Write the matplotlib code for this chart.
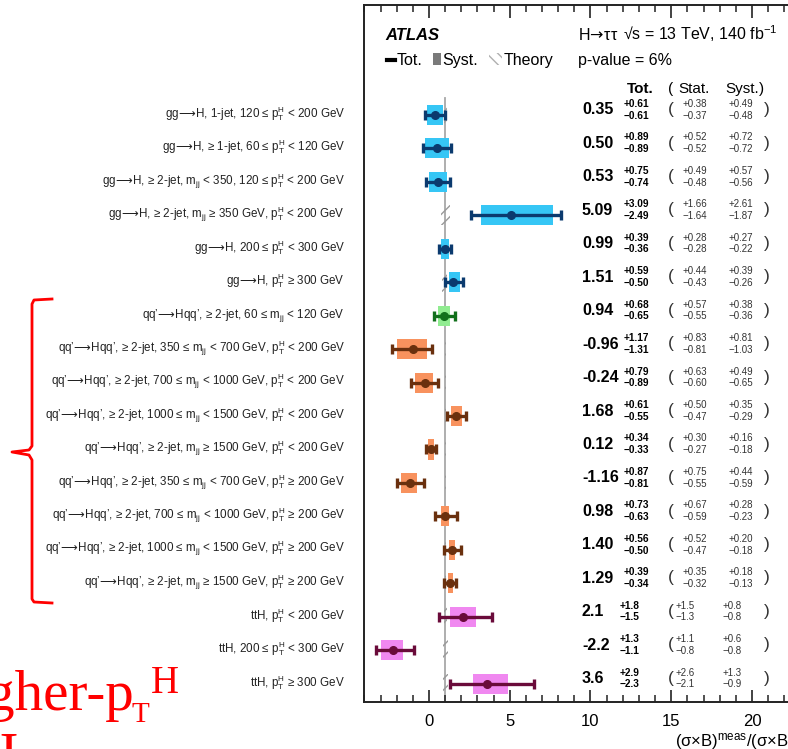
import matplotlib
matplotlib.use("Agg")
import matplotlib.pyplot as plt
from matplotlib.patches import Rectangle
from matplotlib.lines import Line2D
from matplotlib.ticker import MultipleLocator

plt.rcParams["font.family"] = ["Liberation Sans", "DejaVu Sans"]
plt.rcParams["mathtext.fontset"] = "custom"
plt.rcParams["mathtext.rm"] = "Liberation Sans"
plt.rcParams["mathtext.it"] = "Liberation Sans:italic"
plt.rcParams["mathtext.bf"] = "Liberation Sans:bold"
plt.rcParams["mathtext.sf"] = "DejaVu Sans"
plt.rcParams["hatch.linewidth"] = 1.0

PT = r"$\mathregular{p_{T}^{H}}$"
MJJ = r"$\mathregular{m_{jj}}$"
ARR = r"$\!\mathsf{\longrightarrow}\!$"

categories = [
    f"gg{ARR}H, 1-jet, 120 ≤ {PT} < 200 GeV",
    f"gg{ARR}H, ≥ 1-jet, 60 ≤ {PT} < 120 GeV",
    f"gg{ARR}H, ≥ 2-jet, {MJJ} < 350, 120 ≤ {PT} < 200 GeV",
    f"gg{ARR}H, ≥ 2-jet, {MJJ} ≥ 350 GeV, {PT} < 200 GeV",
    f"gg{ARR}H, 200 ≤ {PT} < 300 GeV",
    f"gg{ARR}H, {PT} ≥ 300 GeV",
    f"qq’{ARR}Hqq’, ≥ 2-jet, 60 ≤ {MJJ} < 120 GeV",
    f"qq’{ARR}Hqq’, ≥ 2-jet, 350 ≤ {MJJ} < 700 GeV, {PT} < 200 GeV",
    f"qq’{ARR}Hqq’, ≥ 2-jet, 700 ≤ {MJJ} < 1000 GeV, {PT} < 200 GeV",
    f"qq’{ARR}Hqq’, ≥ 2-jet, 1000 ≤ {MJJ} < 1500 GeV, {PT} < 200 GeV",
    f"qq’{ARR}Hqq’, ≥ 2-jet, {MJJ} ≥ 1500 GeV, {PT} < 200 GeV",
    f"qq’{ARR}Hqq’, ≥ 2-jet, 350 ≤ {MJJ} < 700 GeV, {PT} ≥ 200 GeV",
    f"qq’{ARR}Hqq’, ≥ 2-jet, 700 ≤ {MJJ} < 1000 GeV, {PT} ≥ 200 GeV",
    f"qq’{ARR}Hqq’, ≥ 2-jet, 1000 ≤ {MJJ} < 1500 GeV, {PT} ≥ 200 GeV",
    f"qq’{ARR}Hqq’, ≥ 2-jet, {MJJ} ≥ 1500 GeV, {PT} ≥ 200 GeV",
    f"ttH, {PT} < 200 GeV",
    f"ttH, 200 ≤ {PT} < 300 GeV",
    f"ttH, {PT} ≥ 300 GeV",
]

mu = [0.35, 0.50, 0.53, 5.09, 0.99, 1.51, 0.94, -0.96, -0.24, 1.68, 0.12,
      -1.16, 0.98, 1.40, 1.29, 2.1, -2.2, 3.6]
tot_up = [0.61, 0.89, 0.75, 3.09, 0.39, 0.59, 0.68, 1.17, 0.79, 0.61, 0.34,
          0.87, 0.73, 0.56, 0.39, 1.8, 1.3, 2.9]
tot_dn = [0.61, 0.89, 0.74, 2.49, 0.36, 0.50, 0.65, 1.31, 0.89, 0.55, 0.33,
          0.81, 0.63, 0.50, 0.34, 1.5, 1.1, 2.3]
stat_up = [0.38, 0.52, 0.49, 1.66, 0.28, 0.44, 0.57, 0.83, 0.63, 0.50, 0.30,
           0.75, 0.67, 0.52, 0.35, 1.5, 1.1, 2.6]
stat_dn = [0.37, 0.52, 0.48, 1.64, 0.28, 0.43, 0.55, 0.81, 0.60, 0.47, 0.27,
           0.55, 0.59, 0.47, 0.32, 1.3, 0.8, 2.1]
syst_up = [0.49, 0.72, 0.57, 2.61, 0.27, 0.39, 0.38, 0.81, 0.49, 0.35, 0.16,
           0.44, 0.28, 0.20, 0.18, 0.8, 0.6, 1.3]
syst_dn = [0.48, 0.72, 0.56, 1.87, 0.22, 0.26, 0.36, 1.03, 0.65, 0.29, 0.18,
           0.59, 0.23, 0.18, 0.13, 0.8, 0.8, 0.9]
theory_up = [0.12, 0.06, 0.10, 0.30, 0.05, 0.12, 0.03, 0.03, 0.03, 0.03, 0.03,
             0.03, 0.03, 0.03, 0.03, 0.12, 0.15, 0.15]
theory_dn = [0.06, 0.05, 0.08, 0.25, 0.05, 0.20, 0.03, 0.03, 0.03, 0.03, 0.03,
             0.03, 0.03, 0.03, 0.03, 0.10, 0.12, 0.12]
decimals = [2] * 15 + [1] * 3

box_colors = ["#36C6F5"] * 6 + ["#90EC90"] + ["#F8925E"] * 8 + ["#F088F0"] * 3
bar_colors = ["#0B3A6E"] * 6 + ["#12701C"] + ["#6A300E"] * 8 + ["#6A0B3A"] * 3

xtick_major = 5
xtick_minor = 1

W, H = 788, 749
fig = plt.figure(figsize=(W / 100, H / 100), dpi=100)


def fx(px):
    return px / W


def fy(py):
    return 1 - py / H


# pixel <-> data mapping used for the axes placement
X0_PX, X_SCALE = 429.0, 16.15
Y0_PX, Y_SCALE = 115.0, 33.45
XMIN, XMAX = -4.0, 25.0
AX_TOP, AX_BOT = 5.0, 702.0
left_px = X0_PX + XMIN * X_SCALE
right_px = X0_PX + XMAX * X_SCALE
ax = fig.add_axes([fx(left_px), fy(AX_BOT), (right_px - left_px) / W,
                   (AX_BOT - AX_TOP) / H])
ax.set_xlim(XMIN, XMAX)
ax.set_ylim((AX_BOT - Y0_PX) / Y_SCALE, (AX_TOP - Y0_PX) / Y_SCALE)


def dx(px):
    return (px - X0_PX) / X_SCALE


def dy(py):
    return (py - Y0_PX) / Y_SCALE


for s in ["left", "top", "bottom", "right"]:
    ax.spines[s].set_linewidth(1.4)
    ax.spines[s].set_color("#222222")
ax.set_yticks([])
ax.xaxis.set_major_locator(MultipleLocator(xtick_major))
ax.xaxis.set_minor_locator(MultipleLocator(xtick_minor))
ax.tick_params(axis="x", which="both", direction="in", top=True, bottom=True,
               labeltop=False, colors="#222222")
ax.tick_params(axis="x", which="major", length=9, width=1.2, pad=9,
               labelsize=12, labelcolor="black")
ax.tick_params(axis="x", which="minor", length=5, width=1.1)

n = len(mu)
ybot = (AX_BOT - Y0_PX) / Y_SCALE

# SM reference line
ax.plot([1, 1], [-0.5, ybot], color="#A8A8A8", lw=1.3, zorder=1)

for i in range(n):
    y = i
    # theory band
    ax.add_patch(Rectangle((1 - theory_dn[i], y - 0.3),
                           theory_dn[i] + theory_up[i], 0.6, fill=False,
                           hatch="///", edgecolor="#9A9A9A", lw=0, zorder=1.5))
    # systematic band
    ax.add_patch(Rectangle((mu[i] - syst_dn[i], y - 0.3),
                           syst_dn[i] + syst_up[i], 0.6,
                           facecolor=box_colors[i], edgecolor="none", zorder=2))
    # total uncertainty
    ax.errorbar([mu[i]], [y], xerr=[[tot_dn[i]], [tot_up[i]]], fmt="o", ms=5.5,
                color=bar_colors[i], ecolor=bar_colors[i], lw=2.4,
                capsize=3.8, capthick=2.4, zorder=3)

    # category label
    ax.text(dx(345), y + 0.075, categories[i], ha="right", va="baseline",
            fontsize=8.4, color="#222222", clip_on=False)

    d = decimals[i]
    f = f"{{:.{d}f}}"
    if d == 2:
        xt, xs, xy = 624, 683, 729
    else:
        xt, xs, xy = 620, 676, 723
    ax.text(dx(582), y - 0.15, f.format(mu[i]), fontsize=11.5,
            fontweight="bold", ha="left", va="center")
    ax.text(dx(xt), y - 0.33, "+" + f.format(tot_up[i]), fontsize=7.3,
            fontweight="bold", ha="left", va="center")
    ax.text(dx(xt), y + 0.02, "−" + f.format(tot_dn[i]), fontsize=7.3,
            fontweight="bold", ha="left", va="center")
    ax.text(dx(668), y - 0.16, "(", fontsize=12.5, ha="left", va="center",
            color="#333333")
    ax.text(dx(xs), y - 0.33, "+" + f.format(stat_up[i]), fontsize=7,
            ha="left", va="center", color="#333333")
    ax.text(dx(xs), y + 0.02, "−" + f.format(stat_dn[i]), fontsize=7,
            ha="left", va="center", color="#333333")
    ax.text(dx(xy), y - 0.33, "+" + f.format(syst_up[i]), fontsize=7,
            ha="left", va="center", color="#333333")
    ax.text(dx(xy), y + 0.02, "−" + f.format(syst_dn[i]), fontsize=7,
            ha="left", va="center", color="#333333")
    ax.text(dx(764), y - 0.16, ")", fontsize=12.5, ha="left", va="center",
            color="#333333")

# column header
ax.text(dx(627), dy(93), "Tot.", fontsize=11, fontweight="bold", ha="left",
        va="baseline")
ax.text(dx(668), dy(93), "(", fontsize=11, ha="left", va="baseline")
ax.text(dx(678), dy(93), "Stat.", fontsize=11, ha="left", va="baseline")
ax.text(dx(725), dy(93), "Syst.", fontsize=11, ha="left", va="baseline")
ax.text(dx(759), dy(93), ")", fontsize=11, ha="left", va="baseline")

# header text
fig.text(fx(385), fy(40), "ATLAS", fontsize=12, fontweight="bold",
         fontstyle="italic", ha="left", va="baseline")
fig.text(fx(578), fy(40), r"H$\!\mathsf{\rightarrow}\!$ττ", fontsize=11.5,
         ha="left", va="baseline")
fig.text(fx(623), fy(40), r"√s = 13 TeV, 140 fb$^{\mathregular{-1}}$",
         fontsize=11.5, ha="left", va="baseline")
fig.text(fx(578), fy(65), "p-value = 6%", fontsize=11.5, ha="left",
         va="baseline")

# legend
fig.add_artist(Line2D([fx(387), fx(395)], [fy(59.5), fy(59.5)], color="black",
                      lw=3, transform=fig.transFigure))
fig.text(fx(397), fy(65), "Tot.", fontsize=11.5, ha="left", va="baseline")
fig.add_artist(Rectangle((fx(433), fy(65)), fx(441) - fx(433), fy(53) - fy(65),
                         facecolor="#7A7A7A", edgecolor="none",
                         transform=fig.transFigure))
fig.text(fx(442), fy(65), "Syst.", fontsize=11.5, ha="left", va="baseline")
fig.add_artist(Rectangle((fx(489), fy(65)), fx(502) - fx(489), fy(53) - fy(65),
                         fill=False, hatch="\\\\\\", edgecolor="#B0B0B0", lw=0,
                         transform=fig.transFigure))
fig.text(fx(504), fy(65), "Theory", fontsize=11.5, ha="left", va="baseline")

# axis title
fig.text(fx(675), fy(746),
         r"(σ×B)$^{\mathregular{meas}}$/(σ×B)$^{\mathregular{SM}}$",
         fontsize=12, ha="left", va="baseline")

# red bracket over the VBF categories
bx = [52, 34, 32, 32, 29, 12, 29, 32, 32, 34, 52]
by = [299, 300, 304, 446, 450, 452, 455, 460, 599, 602, 603]
fig.add_artist(Line2D([fx(v) for v in bx], [fy(v) for v in by], color="red",
                      lw=2.0, transform=fig.transFigure, solid_joinstyle="round"))

# red annotation
serif = ["Liberation Serif", "DejaVu Serif"]
fig.text(fx(134), fy(710), "Higher-p", fontsize=41, color="red",
         family=serif, ha="right", va="baseline")
fig.text(fx(132), fy(722), "T", fontsize=21, color="red", family=serif,
         ha="left", va="baseline")
fig.text(fx(151), fy(693), "H", fontsize=28, color="red", family=serif,
         ha="left", va="baseline")
fig.text(fx(18), fy(772), "H", fontsize=41, color="red", family=serif,
         ha="right", va="baseline")

fig.savefig("out.png", dpi=100)
